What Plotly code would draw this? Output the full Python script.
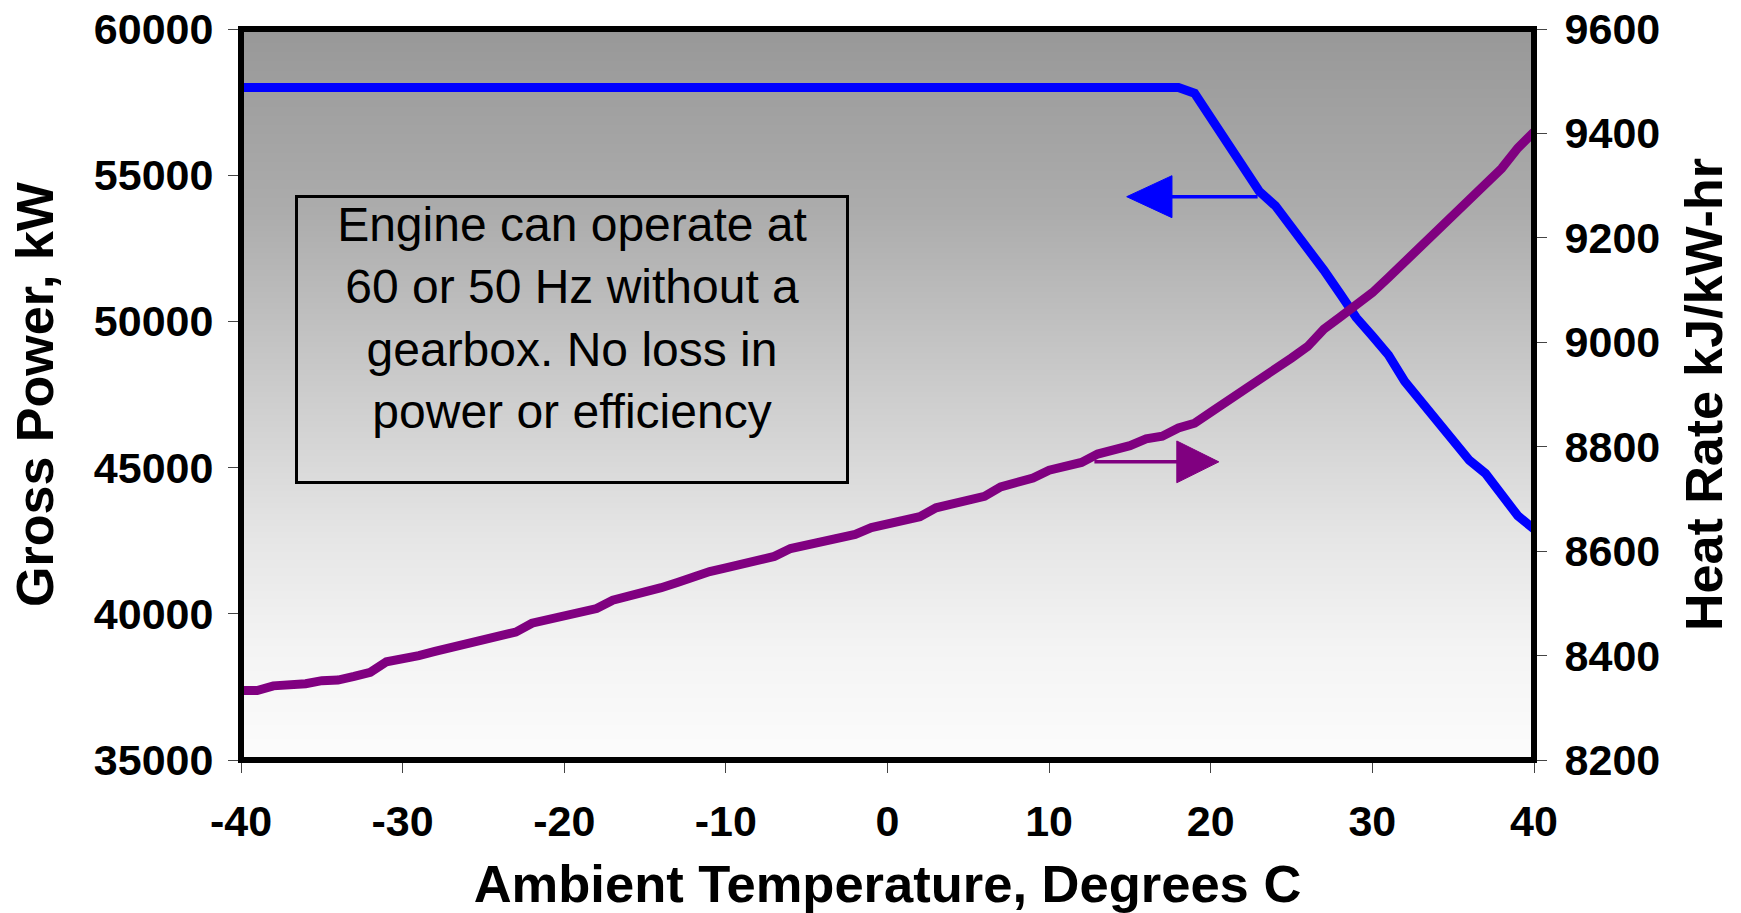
import base64
import struct
import zlib

import plotly.graph_objects as go

# ---------------- data ----------------
temperature_c = list(range(-40, 41))

gross_power_kw = [
    58000, 58000, 58000, 58000, 58000, 58000, 58000, 58000, 58000, 58000,  # -40..-31
    58000, 58000, 58000, 58000, 58000, 58000, 58000, 58000, 58000, 58000,  # -30..-21
    58000, 58000, 58000, 58000, 58000, 58000, 58000, 58000, 58000, 58000,  # -20..-11
    58000, 58000, 58000, 58000, 58000, 58000, 58000, 58000, 58000, 58000,  # -10..-1
    58000, 58000, 58000, 58000, 58000, 58000, 58000, 58000, 58000, 58000,  # 0..9
    58000, 58000, 58000, 58000, 58000, 58000, 58000, 58000, 58000,         # 10..18
    57800, 56960, 56110, 55270, 54450, 53950, 53250, 52500, 51750, 50950,  # 19..28
    50130, 49500, 48850, 47950, 47250, 46570, 45875, 45250, 44800, 44050,  # 29..38
    43350, 42900,                                                          # 39..40
]

heat_rate = [
    8333, 8333, 8342, 8342, 8346, 8352, 8353, 8360, 8368, 8388,  # -40..-31
    8393, 8400, 8408, 8416, 8424, 8432, 8438, 8445, 8462, 8470,  # -30..-21
    8477, 8484, 8490, 8506, 8513, 8522, 8530, 8540, 8551, 8561,  # -20..-11
    8568, 8575, 8582, 8590, 8605, 8612, 8619, 8625, 8632, 8645,  # -10..-1
    8652, 8659, 8666, 8683, 8689, 8697, 8705, 8723, 8731, 8740,  # 0..9
    8755, 8762, 8770, 8786, 8793, 8802, 8815, 8820, 8836, 8845,  # 10..19
    8866, 8886, 8906, 8930, 8948, 8970, 8992, 9025, 9048, 9070,  # 20..29
    9095, 9124, 9154, 9184, 9214, 9245, 9276, 9302, 9333, 9372,  # 30..39
    9403,                                                        # 40
]

x_ticks = [-40, -30, -20, -10, 0, 10, 20, 30, 40]
x_tick_labels = ["-40", "-30", "-20", "-10", "0", "10", "20", "30", "40"]
power_ticks = [35000, 40000, 45000, 50000, 55000, 60000]
power_tick_labels = ["35000", "40000", "45000", "50000", "55000", "60000"]
rate_ticks = [8200, 8400, 8600, 8800, 9000, 9200, 9400, 9600]
rate_tick_labels = ["8200", "8400", "8600", "8800", "9000", "9200", "9400", "9600"]

note_text = ("Engine can operate at<br>60 or 50 Hz without a<br>"
             "gearbox. No loss in<br>power or efficiency")

# ---------------- styling ----------------
FONT = "Arial, 'Liberation Sans', sans-serif"
BLUE = "#0000FF"
PURPLE = "#800080"

W, H = 1741, 913
M_L, M_R, M_T, M_B = 241, 207, 29, 153
PLOT_W = W - M_L - M_R
PLOT_H = H - M_T - M_B


def gradient_png(height, stops):
    """Vertical grey gradient (top -> bottom) as PNG data URI."""
    rows = []
    for i in range(height):
        f = i / (height - 1)
        g = stops[-1][1]
        for (f0, g0), (f1, g1) in zip(stops[:-1], stops[1:]):
            if f0 <= f <= f1:
                g = g0 + (g1 - g0) * (f - f0) / (f1 - f0)
                break
        v = int(round(g))
        rows.append(b"\x00" + bytes([v, v, v, v]))
    raw = b"".join(rows)

    def chunk(tag, data):
        c = struct.pack(">I", len(data)) + tag + data
        return c + struct.pack(">I", zlib.crc32(tag + data) & 0xFFFFFFFF)

    png = b"\x89PNG\r\n\x1a\n"
    png += chunk(b"IHDR", struct.pack(">IIBBBBB", 4, height, 8, 0, 0, 0, 0))
    png += chunk(b"IDAT", zlib.compress(raw, 9))
    png += chunk(b"IEND", b"")
    return "data:image/png;base64," + base64.b64encode(png).decode()


bg_stops = [(0.0, 152), (0.25, 172), (0.5, 205), (0.7, 230), (0.85, 244), (1.0, 252)]

fig = go.Figure()

fig.add_trace(go.Scatter(
    x=temperature_c, y=gross_power_kw, mode="lines", yaxis="y",
    line=dict(color=BLUE, width=9), name="Gross Power", cliponaxis=False,
))
fig.add_trace(go.Scatter(
    x=temperature_c, y=heat_rate, mode="lines", yaxis="y2",
    line=dict(color=PURPLE, width=9), name="Heat Rate", cliponaxis=False,
))

tick_font = dict(family=FONT, size=43, color="black", weight="bold")
ytitle_font = dict(family=FONT, size=52, color="black", weight="bold")
xtitle_font = dict(family=FONT, size=52.5, color="black", weight="bold")

fig.update_layout(
    width=W, height=H,
    margin=dict(l=M_L, r=M_R, t=M_T, b=M_B, autoexpand=False),
    paper_bgcolor="white",
    plot_bgcolor="rgba(0,0,0,0)",
    showlegend=False,
    xaxis=dict(
        range=[-40, 40], tickvals=x_ticks, ticktext=x_tick_labels,
        ticks="outside", ticklen=12, automargin=False, ticklabeloverflow="allow",
        tickwidth=1, tickcolor="#444", showgrid=False, zeroline=False,
        showline=False, tickfont=tick_font, ticklabelstandoff=11,
        title=dict(text="Ambient Temperature, Degrees C", font=xtitle_font, standoff=22),
    ),
    yaxis=dict(
        range=[35000, 60000], tickvals=power_ticks, ticktext=power_tick_labels,
        ticks="outside", ticklen=12, tickwidth=1, tickcolor="#444", automargin=False,
        ticklabeloverflow="allow",
        showgrid=False, zeroline=False, showline=False, tickfont=tick_font,
        ticklabelstandoff=6,
        title=dict(text="Gross Power, kW", font=ytitle_font, standoff=23),
    ),
    yaxis2=dict(
        range=[8200, 9600], tickvals=rate_ticks, ticktext=rate_tick_labels,
        overlaying="y", side="right", automargin=False, ticklabeloverflow="allow",
        ticks="outside", ticklen=12, tickwidth=1, tickcolor="#444",
        showgrid=False, zeroline=False, showline=False, tickfont=tick_font,
        ticklabelstandoff=9,
        title=dict(text="Heat Rate kJ/kW-hr", font=ytitle_font, standoff=26),
    ),
    images=[dict(
        source=gradient_png(PLOT_H, bg_stops), xref="paper", yref="paper",
        x=0, y=1, sizex=1, sizey=1, xanchor="left", yanchor="top",
        sizing="stretch", layer="below",
    )],
)

shapes = [
    # plot frame
    dict(type="rect", xref="paper", yref="paper", x0=0, x1=1, y0=0, y1=1,
         line=dict(color="black", width=6), layer="above"),
    # blue arrow (points left, to the power axis)
    dict(type="line", xref="x", yref="y", x0=22.9, x1=17.4, y0=54265, y1=54265,
         line=dict(color=BLUE, width=3.5)),
    dict(type="path", xref="x", yref="y",
         path="M 14.8,54265 L 17.6,54983 L 17.6,53547 Z",
         fillcolor=BLUE, line=dict(color=BLUE, width=1)),
    # purple arrow (points right, to the heat-rate axis)
    dict(type="line", xref="x", yref="y2", x0=12.8, x1=18.1, y0=8771, y1=8771,
         line=dict(color=PURPLE, width=3.5)),
    dict(type="path", xref="x", yref="y2",
         path="M 20.5,8771 L 17.9,8811 L 17.9,8731 Z",
         fillcolor=PURPLE, line=dict(color=PURPLE, width=1)),
]
fig.update_layout(shapes=shapes)

fig.add_annotation(
    text=note_text, xref="paper", yref="paper",
    x=(572 - M_L) / PLOT_W, y=(760 - 339.5) / PLOT_H,
    xanchor="center", yanchor="middle", showarrow=False,
    width=548, height=283, align="center", valign="top",
    bordercolor="black", borderwidth=3, borderpad=0,
    font=dict(family=FONT, size=48, color="black"),
)

# remove the default page margin so the figure fills the window exactly
fig.write_html(
    "out.html",
    config={"displayModeBar": False},
    post_script="document.body.style.margin='0px';"
                "document.body.style.overflow='hidden';",
)
